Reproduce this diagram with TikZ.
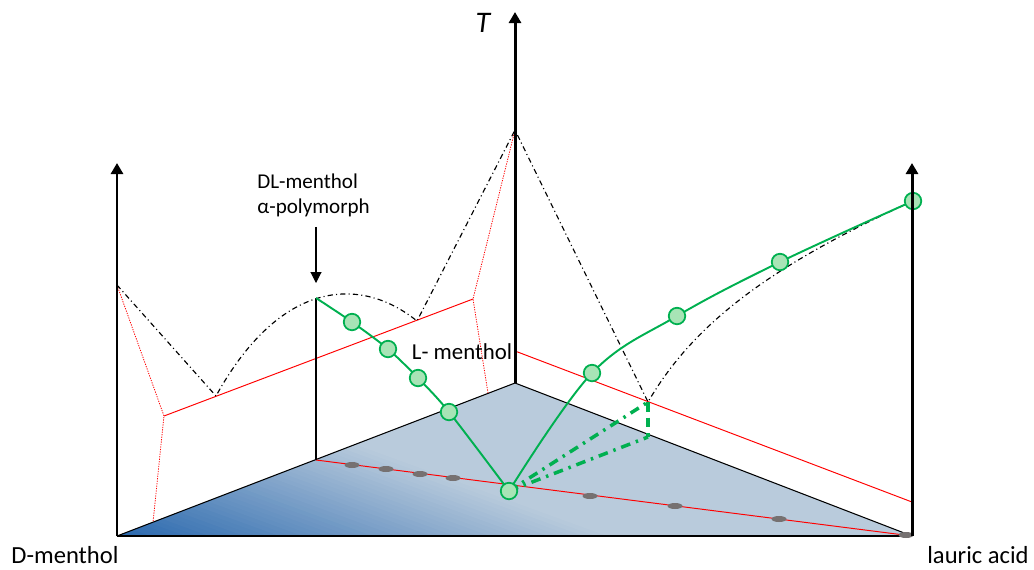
\documentclass[tikz,border=0pt]{standalone}
\usepackage{fontspec}
\setmainfont{Carlito}
\usepackage{tikz}
\usepackage{xcolor}
\usetikzlibrary{arrows.meta,shapes.geometric}
\definecolor{eutred}{HTML}{FF0000}
\definecolor{grn}{HTML}{00B050}
\definecolor{grnfill}{HTML}{A8E4B6}
\definecolor{pore}{HTML}{767171}
\definecolor{basedark}{HTML}{2A68AE}
\definecolor{baselight}{HTML}{B9CBDC}
\tikzset{
  taxis/.style={-{Triangle[length=0.22cm,width=0.24cm]}, line width=1.7pt, draw=black},
  rim/.style={draw=black, line width=0.6pt},
  pointer/.style={-{Triangle[length=0.22cm,width=0.22cm]}, line width=0.6pt, draw=black},
  liq/.style={draw=black, line width=0.65pt, dash pattern=on 3pt off 1.8pt on 0.6pt off 1.8pt},
  eut/.style={draw=eutred, line width=0.55pt},
  eutdot/.style={draw=eutred, line width=0.45pt, dash pattern=on 0.7pt off 0.7pt},
  grcurve/.style={draw=grn, line width=1.1pt},
  grdash/.style={draw=grn, line width=2pt, dash pattern=on 5.5pt off 3.4pt on 1.4pt off 3.4pt},
  datapt/.style={circle, draw=grn, fill=grnfill, line width=1pt, minimum size=0.33cm, inner sep=0pt},
  sample/.style={ellipse, fill=pore, minimum width=0.3cm, minimum height=0.12cm, inner sep=0pt},
  lbl/.style={font=\fontsize{14}{17}\selectfont, text=black, inner sep=0pt}
}

\begin{document}
\begin{tikzpicture}[x=0.02cm,y=-0.02cm]
  \useasboundingbox (0,0) rectangle (1034,569);

  % composition triangle
  \coordinate (dm) at (117,536);
  \coordinate (la) at (912,536);
  \coordinate (lm) at (515,383);
  \coordinate (dmtop) at (117,163);
  \coordinate (lmtop) at (515,12);
  \coordinate (latop) at (912,163);

  \begin{scope}
    \clip (dm) -- (lm) -- (la) -- cycle;
    \fill[baselight] (dm) -- (lm) -- (la) -- cycle;
    \fill[basedark,rotate around={-20:(dm)}] (17,566) rectangle (1117,535);
    \foreach \k in {0,...,42}{
      \pgfmathtruncatemacro{\shadepc}{100-100*\k/42}
      \pgfmathsetmacro{\vlo}{536-4*\k+0.5}
      \pgfmathsetmacro{\vhi}{536-4*\k-4.5}
      \fill[basedark!\shadepc!baselight,rotate around={-20:(dm)}] (17,\vlo) rectangle (1117,\vhi);
    }
  \end{scope}
  \draw[rim] (dm) -- (lm) -- (la);
  \draw[rim,line width=1pt] (dm) -- (la);

  % melting points, eutectics
  \coordinate (dmmelt) at (117,285);
  \coordinate (lmmelt) at (515,130);
  \coordinate (lamelt) at (913,201);
  \coordinate (dlpk) at (316,298);
  \coordinate (eu1) at (216,396);
  \coordinate (eu2) at (417,321);
  \coordinate (eu3) at (648,402);
  \coordinate (eu3low) at (648,437);
  \coordinate (e1) at (164,416);
  \coordinate (e2) at (473,299);
  \coordinate (e3) at (515,351);
  \coordinate (e4) at (912,502);
  \coordinate (f1) at (153,522);
  \coordinate (f2) at (488,393);
  \coordinate (b1) at (316,460);

  \draw[eut] (e1) -- (e2);
  \draw[eut] (e3) -- (e4);
  \draw[eut] (b1) -- (la);
  \draw[eutdot] (dmmelt) -- (e1) -- (f1);
  \draw[eutdot] (lmmelt) -- (e2) -- (f2);
  \draw[rim] (b1) -- (dlpk);

  \draw[liq] (dmmelt) -- (eu1) .. controls (280,280) and (360,275) .. (eu2)
    -- (lmmelt) -- (eu3) .. controls (690,330) and (760,270) .. (lamelt);

  % measured series
  \coordinate (g1) at (352,322);
  \coordinate (g2) at (388,349);
  \coordinate (g3) at (418,378);
  \coordinate (g4) at (449,412);
  \coordinate (g0) at (509,491);
  \coordinate (h1) at (592,373);
  \coordinate (h2) at (677,316);
  \coordinate (h3) at (780,262);

  \draw[grcurve] plot[smooth,tension=0.5] coordinates {(dlpk) (g1) (g2) (g3) (g4) (g0)};
  \draw[grcurve] plot[smooth,tension=0.6] coordinates {(g0) (h1) (h2) (h3) (lamelt)};
  \draw[grdash] (g0) -- (eu3);
  \draw[grdash] (g0) -- (eu3low);
  \draw[grn,line width=2pt,dash pattern=on 5.5pt off 3.4pt] (eu3) -- (eu3low);

  \foreach \s [count=\i] in {(352,465),(386,469),(420,474),(453,478),(590,496),(675,506),(779,519),(906,535)}
    \node[sample] (s\i) at \s {};

  \foreach \p in {g1,g2,g3,g4,g0,h1,h2,h3,lamelt}
    \node[datapt] (pt-\p) at (\p) {};

  % axes
  \draw[taxis] (dm) -- (dmtop);
  \draw[taxis] (lm) -- (lmtop);
  \draw[taxis] (la) -- (latop);

  % labels
  \node[lbl,font=\itshape\fontsize{17}{20}\selectfont] (tlab) at (483,23) {T};
  \node[lbl,font=\fontsize{12}{14.2}\selectfont,align=left,anchor=west] (dllab) at (257,195) {DL-menthol\\α-polymorph};
  \coordinate (tip) at (316,283);
  \draw[pointer,shorten <=0.2cm] (dllab.south -| tip) -- (tip);
  \node[lbl,font=\fontsize{13}{16}\selectfont] (lmlab) at (462,352) {L- menthol};
  \node[lbl] (dmlab) at (65,555) {D-menthol};
  \node[lbl,anchor=west] (lalab) at (927,555) {lauric acid};
\end{tikzpicture}
\end{document}
